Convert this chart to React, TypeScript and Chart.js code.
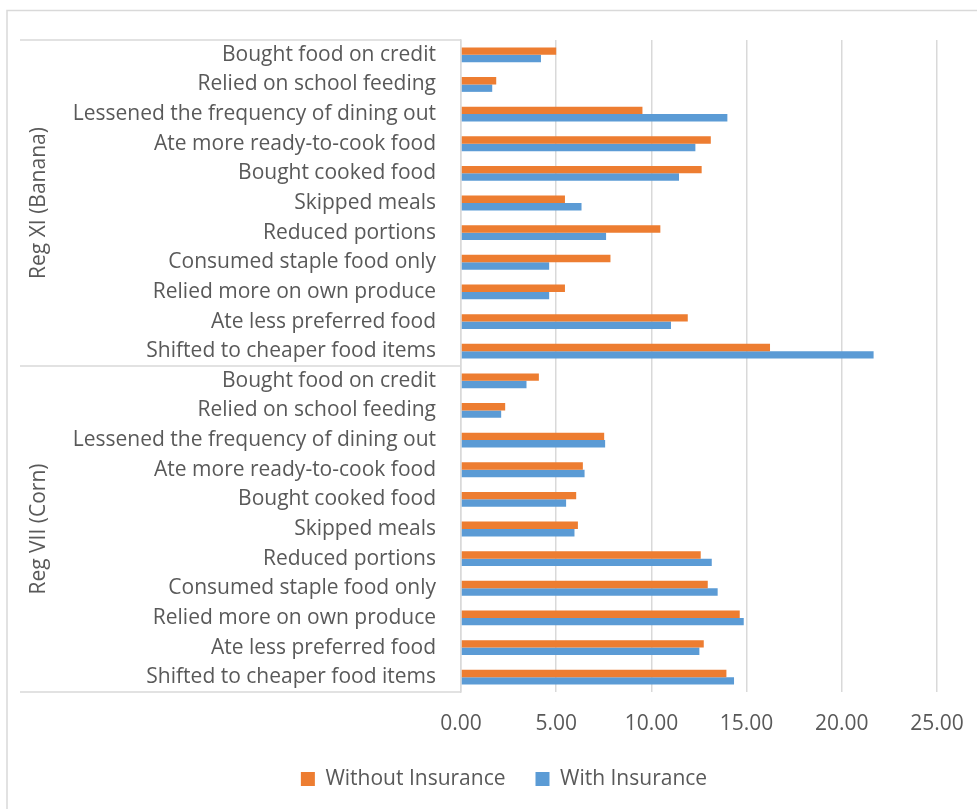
import React, { useEffect, useRef } from "react";
import { Chart, registerables } from "chart.js";

Chart.register(...registerables);

const strategies = [
  "Bought food on credit",
  "Relied on school feeding",
  "Lessened the frequency of dining out",
  "Ate more ready-to-cook food",
  "Bought cooked food",
  "Skipped meals",
  "Reduced portions",
  "Consumed staple food only",
  "Relied more on own produce",
  "Ate less preferred food",
  "Shifted to cheaper food items",
];
const groups = ["Reg XI (Banana)", "Reg VII (Corn)"];
const categories = [...strategies, ...strategies];

const withoutInsurance = [
  5.0, 1.85, 9.53, 13.12, 12.64, 5.46, 10.47, 7.85, 5.46, 11.91, 16.23,
  4.09, 2.32, 7.52, 6.4, 6.05, 6.14, 12.59, 12.96, 14.64, 12.75, 13.94,
];
const withInsurance = [
  4.2, 1.64, 13.99, 12.31, 11.45, 6.33, 7.62, 4.63, 4.63, 11.03, 21.67,
  3.44, 2.11, 7.57, 6.49, 5.52, 5.96, 13.17, 13.48, 14.85, 12.52, 14.34,
];
const xTicks = [0, 5, 10, 15, 20, 25];

const TEXT = "#595959";
const LINE = "#D9D9D9";
const FONT = "'Open Sans'";
const FSIZE = 21;

const groupAxisPlugin = {
  id: "groupAxis",
  afterDraw(chart: any) {
    const { ctx, chartArea, scales } = chart;
    const y = scales.y;
    ctx.save();
    ctx.strokeStyle = LINE;
    ctx.lineWidth = 1.5;
    // outer chart border
    ctx.beginPath();
    ctx.moveTo(7, chart.height);
    ctx.lineTo(7, 10.5);
    ctx.lineTo(chart.width, 10.5);
    ctx.stroke();
    // group separators and labels
    let start = 0;
    const sizes = [strategies.length, strategies.length];
    const boundaries: number[] = [y.getPixelForValue(-0.5)];
    sizes.forEach((n) => {
      start += n;
      boundaries.push(y.getPixelForValue(start - 0.5));
    });
    boundaries.forEach((b) => {
      ctx.beginPath();
      ctx.moveTo(20, b);
      ctx.lineTo(chartArea.left, b);
      ctx.stroke();
    });
    ctx.fillStyle = TEXT;
    ctx.font = `${FSIZE}px ${FONT}`;
    ctx.textAlign = "center";
    ctx.textBaseline = "middle";
    groups.forEach((g, i) => {
      const cy = (boundaries[i] + boundaries[i + 1]) / 2;
      ctx.save();
      ctx.translate(39, cy);
      ctx.rotate(-Math.PI / 2);
      ctx.fillText(g, 0, 0);
      ctx.restore();
    });
    ctx.restore();
  },
};

export default function App() {
  const ref = useRef<HTMLCanvasElement>(null);
  useEffect(() => {
    Chart.defaults.font.family = FONT;
    const chart = new Chart(ref.current!, {
      type: "bar",
      data: {
        labels: categories,
        datasets: [
          {
            label: "Without Insurance",
            data: withoutInsurance,
            backgroundColor: "#ED7D31",
            barPercentage: 1,
            categoryPercentage: 0.5,
          },
          {
            label: "With Insurance",
            data: withInsurance,
            backgroundColor: "#5B9BD5",
            barPercentage: 1,
            categoryPercentage: 0.5,
          },
        ],
      },
      options: {
        indexAxis: "y",
        responsive: false,
        animation: false,
        devicePixelRatio: 1,
        layout: { padding: { left: 71, top: 40, right: 40, bottom: 9.5 } },
        plugins: {
          legend: {
            position: "bottom",
            labels: {
              boxWidth: 14,
              boxHeight: 14,
              color: TEXT,
              font: { size: FSIZE, family: FONT },
              padding: 30,
            },
          },
          tooltip: { enabled: false },
        },
        scales: {
          x: {
            min: 0,
            max: 25,
            afterBuildTicks: (s: any) => {
              s.ticks = xTicks.map((v) => ({ value: v }));
            },
            ticks: {
              color: TEXT,
              font: { size: FSIZE, family: FONT },
              padding: 19,
              callback: (v: any) => Number(v).toFixed(2),
            },
            grid: { color: LINE, lineWidth: 1.5, drawTicks: false },
            border: { display: false },
            afterFit: (s: any) => {
              s.height = 46.5;
              s.paddingLeft = 0;
              s.paddingRight = 0;
            },
          },
          y: {
            type: "category",
            grid: { display: false, drawTicks: false },
            border: { display: true, color: LINE, width: 1.5 },
            ticks: {
              color: TEXT,
              font: { size: FSIZE, family: FONT },
              padding: 25,
              autoSkip: false,
            },
            afterFit: (s: any) => {
              s.width = 390;
            },
          },
        },
      },
      plugins: [groupAxisPlugin],
    } as any);
    return () => chart.destroy();
  }, []);
  return (
    <div style={{ position: "absolute", left: 0, top: 0, width: 977, height: 809, background: "#fff" }}>
      <canvas ref={ref} width={977} height={809} style={{ display: "block", width: 977, height: 809 }} />
    </div>
  );
}
